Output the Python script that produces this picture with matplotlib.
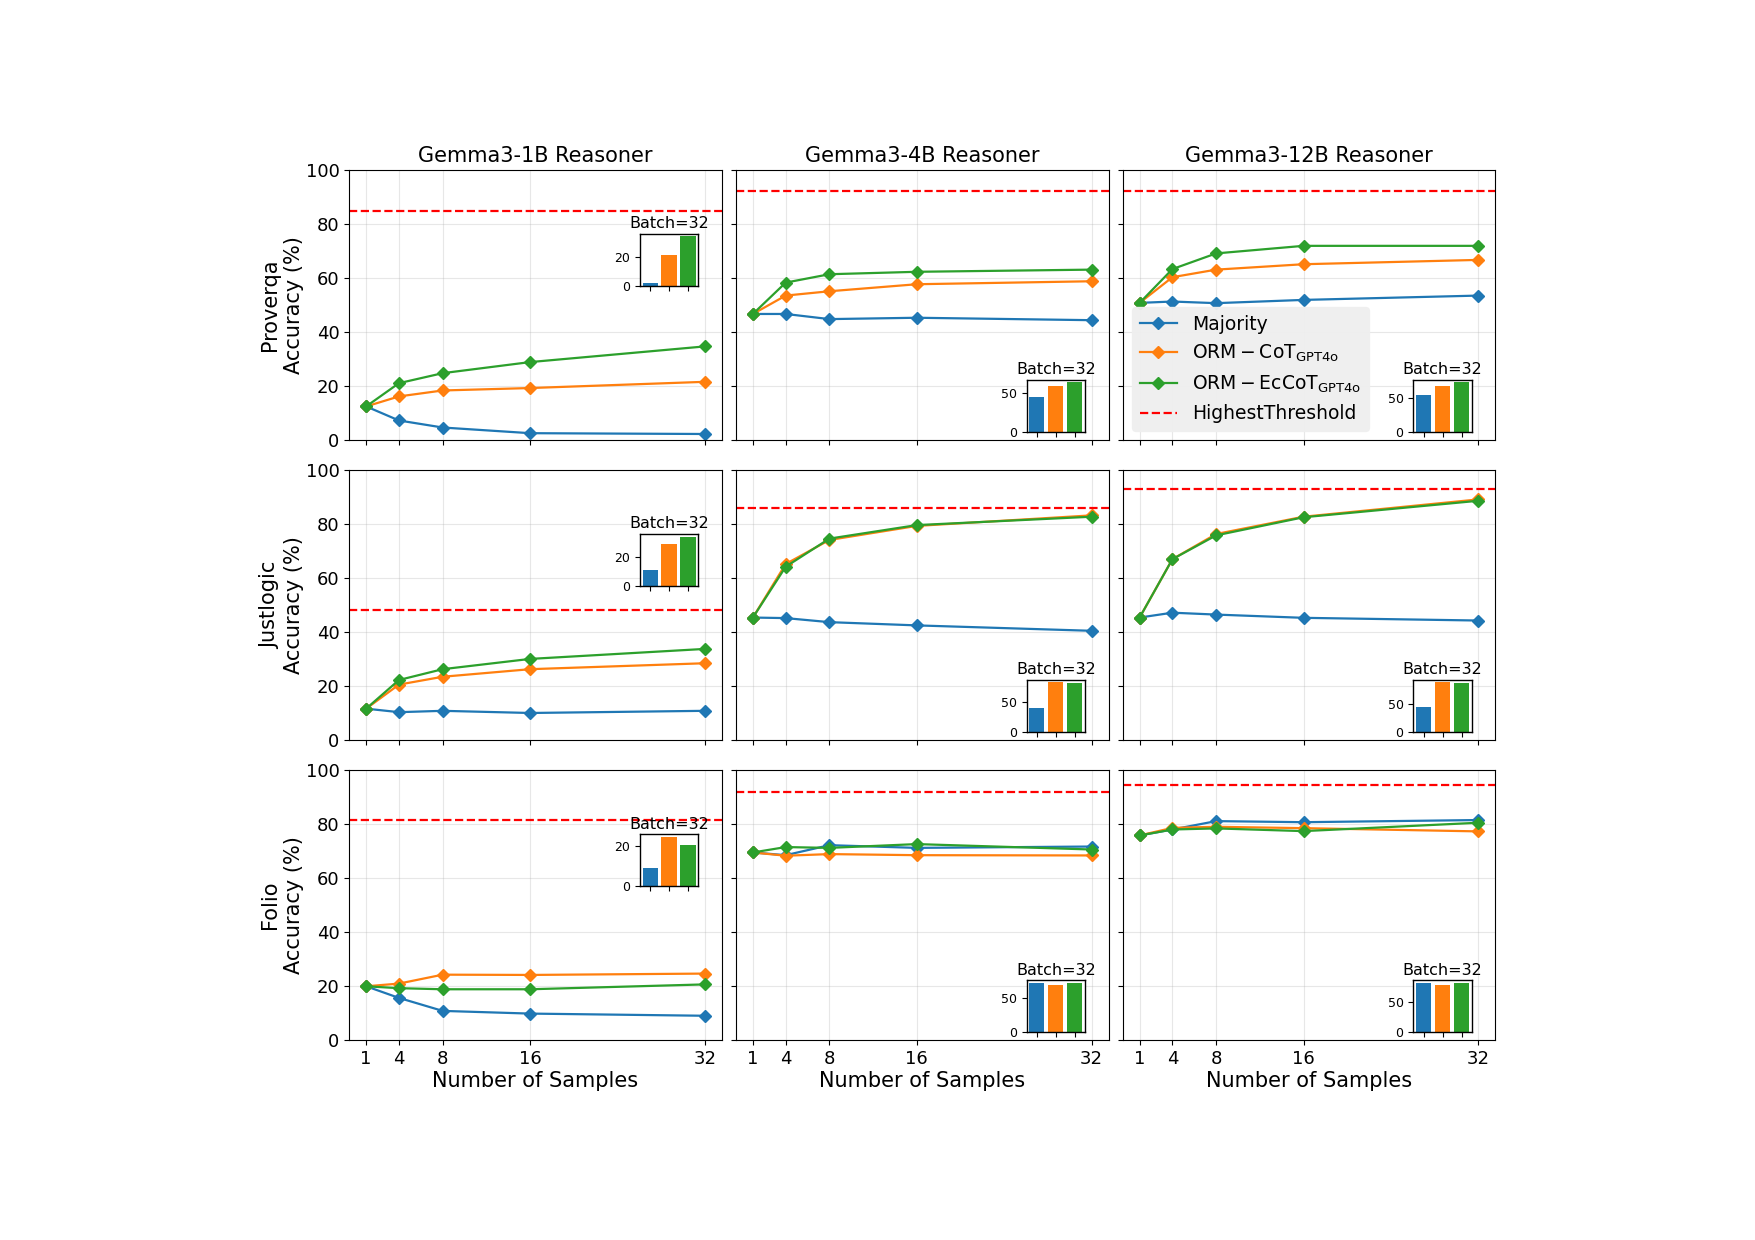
import matplotlib
matplotlib.use("Agg")
import matplotlib.pyplot as plt
from matplotlib.ticker import MaxNLocator

samples = [1, 4, 8, 16, 32]
reasoners = ["Gemma3-1B Reasoner", "Gemma3-4B Reasoner", "Gemma3-12B Reasoner"]
datasets = ["Proverqa", "Justlogic", "Folio"]
series_names = ["Majority", r"$\mathrm{ORM-CoT_{GPT4o}}$", r"$\mathrm{ORM-EcCoT_{GPT4o}}$"]
threshold_label = "HighestThreshold"

# Proverqa
proverqa_1b_majority = [12.5, 7.3, 4.7, 2.6, 2.3]
proverqa_1b_cot = [12.5, 16.2, 18.4, 19.3, 21.6]
proverqa_1b_eccot = [12.5, 21.1, 24.8, 28.9, 34.7]
proverqa_4b_majority = [46.7, 46.7, 44.8, 45.3, 44.4]
proverqa_4b_cot = [46.7, 53.5, 55.1, 57.7, 58.8]
proverqa_4b_eccot = [46.7, 58.3, 61.4, 62.3, 63.1]
proverqa_12b_majority = [50.8, 51.3, 50.7, 51.9, 53.5]
proverqa_12b_cot = [50.8, 60.3, 63.1, 65.1, 66.7]
proverqa_12b_eccot = [50.8, 63.3, 69.1, 71.9, 71.9]
proverqa_thresholds = [84.7, 92.1, 92.3]

# Justlogic
justlogic_1b_majority = [11.7, 10.4, 10.9, 10.1, 10.9]
justlogic_1b_cot = [11.7, 20.6, 23.5, 26.3, 28.5]
justlogic_1b_eccot = [11.7, 22.3, 26.3, 30.1, 33.8]
justlogic_4b_majority = [45.4, 45.2, 43.7, 42.5, 40.5]
justlogic_4b_cot = [45.4, 65.2, 74.1, 79.3, 83.2]
justlogic_4b_eccot = [45.4, 64.2, 74.6, 79.6, 82.7]
justlogic_12b_majority = [45.4, 47.2, 46.5, 45.3, 44.3]
justlogic_12b_cot = [45.4, 67.0, 76.3, 82.7, 89.1]
justlogic_12b_eccot = [45.4, 67.0, 75.8, 82.5, 88.6]
justlogic_thresholds = [48.1, 85.8, 92.8]

# Folio
folio_1b_majority = [20.0, 15.7, 10.9, 9.9, 9.1]
folio_1b_cot = [20.0, 21.0, 24.3, 24.2, 24.7]
folio_1b_eccot = [20.0, 19.3, 18.9, 18.9, 20.7]
folio_4b_majority = [69.5, 68.5, 72.2, 71.2, 71.7]
folio_4b_cot = [69.5, 68.3, 68.9, 68.5, 68.4]
folio_4b_eccot = [69.5, 71.5, 71.2, 72.6, 70.6]
folio_12b_majority = [75.8, 78.0, 81.1, 80.7, 81.5]
folio_12b_cot = [75.8, 78.6, 79.0, 78.5, 77.3]
folio_12b_eccot = [75.8, 78.0, 78.4, 77.4, 80.5]
folio_thresholds = [81.5, 91.7, 94.4]

grid_data = [
    [[proverqa_1b_majority, proverqa_1b_cot, proverqa_1b_eccot],
     [proverqa_4b_majority, proverqa_4b_cot, proverqa_4b_eccot],
     [proverqa_12b_majority, proverqa_12b_cot, proverqa_12b_eccot]],
    [[justlogic_1b_majority, justlogic_1b_cot, justlogic_1b_eccot],
     [justlogic_4b_majority, justlogic_4b_cot, justlogic_4b_eccot],
     [justlogic_12b_majority, justlogic_12b_cot, justlogic_12b_eccot]],
    [[folio_1b_majority, folio_1b_cot, folio_1b_eccot],
     [folio_4b_majority, folio_4b_cot, folio_4b_eccot],
     [folio_12b_majority, folio_12b_cot, folio_12b_eccot]],
]
thresholds = [proverqa_thresholds, justlogic_thresholds, folio_thresholds]
colors = ["#1f77b4", "#ff7f0e", "#2ca02c"]

fig, axes = plt.subplots(3, 3, figsize=(17.55, 12.4), dpi=100, sharex=True, sharey=True)
fig.subplots_adjust(left=0.199, right=0.852, top=0.863, bottom=0.161, wspace=0.038, hspace=0.11)

for r in range(3):
    for c in range(3):
        ax = axes[r, c]
        for s in range(3):
            ax.plot(samples, grid_data[r][c][s], marker="D", markersize=6, linewidth=1.6,
                    color=colors[s], label=series_names[s])
        ax.axhline(thresholds[r][c], color="red", linestyle="--", linewidth=1.6, label=threshold_label)
        ax.set_ylim(0, 100)
        ax.set_xticks(samples)
        ax.grid(True, alpha=0.3)
        ax.tick_params(labelsize=13)
        if r == 0:
            ax.set_title(reasoners[c], fontsize=15)
        if r == 2:
            ax.set_xlabel("Number of Samples", fontsize=15, labelpad=2)
        if c == 0:
            ax.set_ylabel(f"{datasets[r]}\nAccuracy (%)", fontsize=15, labelpad=1.5)
        # inset bars
        if c == 0:
            bounds = [0.78, 0.57, 0.157, 0.193]
        else:
            bounds = [0.78, 0.03, 0.157, 0.193]
        ins = ax.inset_axes(bounds)
        final_vals = [grid_data[r][c][s][-1] for s in range(3)]
        ins.bar(range(3), final_vals, color=colors)
        ins.set_xticks(range(3))
        ins.set_xticklabels([])
        ins.yaxis.set_major_locator(MaxNLocator(nbins=2, steps=[2, 5, 10]))
        ins.tick_params(labelsize=9)
        for sp in ins.spines.values():
            sp.set_linewidth(1.0)
        ins.set_title("Batch=32", fontsize=11.5, pad=4)

leg = axes[0, 2].legend(loc="lower left", fontsize=13.5, framealpha=0.95)
leg.get_frame().set_facecolor("#efefef")
leg.get_frame().set_edgecolor("#efefef")

fig.savefig("out.png", dpi=100)
